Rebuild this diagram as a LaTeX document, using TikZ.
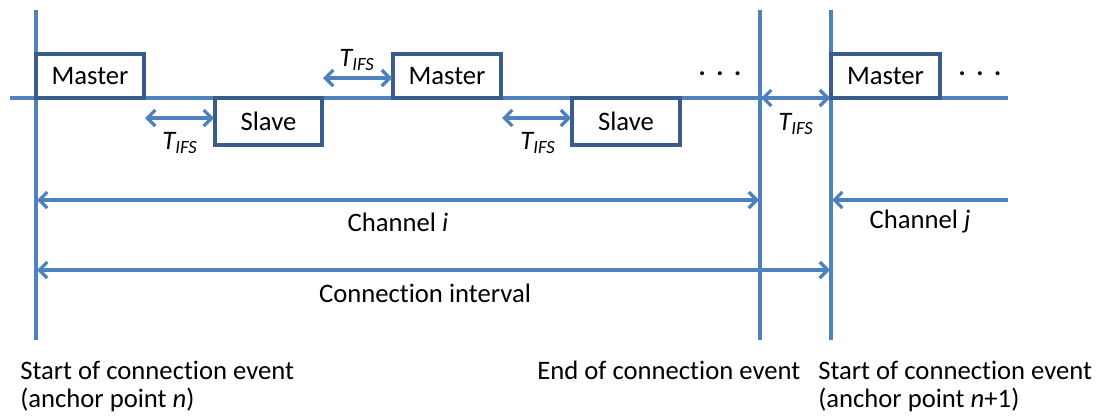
\documentclass[tikz,border=0pt]{standalone}
\usepackage{fontspec}
\setmainfont{Carlito}[Ligatures={NoCommon,NoContextual}]
\usetikzlibrary{arrows.meta}
\definecolor{lineblue}{HTML}{4F81BD}
\definecolor{boxblue}{HTML}{385D8A}
\tikzset{
  ln/.style={draw=lineblue, line width=2.4pt},
  dbl/.style={ln, {Straight Barb[length=6pt,width=12pt,line width=2.4pt]}-{Straight Barb[length=6pt,width=12pt,line width=2.4pt]}},
  rarr/.style={ln, -{Straight Barb[length=6pt,width=12pt,line width=2.4pt]}},
  box/.style={draw=boxblue, line width=2.4pt, fill=white, inner sep=0pt, font=\fontsize{20}{24}\selectfont},
  lbl/.style={font=\fontsize{20}{24}\selectfont, inner sep=0pt},
  tifs/.style={font=\fontsize{20}{24}\selectfont\itshape, inner sep=0pt},
  bot/.style={font=\fontsize{20}{24}\selectfont, inner sep=0pt, anchor=base west}
}
\newcommand{\tifs}{T\textsubscript{IFS}}
\newcommand{\mydots}{\textbf{.\hspace{0.4em}.\hspace{0.4em}.}}
\begin{document}
\begin{tikzpicture}[x=0.75pt,y=-0.75pt]
\useasboundingbox (0,0) rectangle (1105,419);
% coordinates
\coordinate (v1t) at (36,10);   \coordinate (v1b) at (36,340);
\coordinate (v2t) at (760,10);  \coordinate (v2b) at (760,340);
\coordinate (v3t) at (831,10);  \coordinate (v3b) at (831,340);
\coordinate (hl) at (10,98);    \coordinate (hr) at (1008,98);
% vertical and main lines
\draw[ln] (v1t) -- (v1b);
\draw[ln] (v2t) -- (v2b);
\draw[ln] (v3t) -- (v3b);
\draw[ln] (hl) -- (hr);
% boxes
\node[box, minimum width=81pt, minimum height=33pt] (m1) at (90,76) {Master};
\node[box, minimum width=80.25pt, minimum height=35.25pt] (s1) at (268.5,121.5) {Slave};
\node[box, minimum width=81pt, minimum height=33pt] (m2) at (447,76) {Master};
\node[box, minimum width=81pt, minimum height=35.25pt] (s2) at (626,121.5) {Slave};
\node[box, minimum width=81.75pt, minimum height=33pt] (m3) at (885.5,76) {Master};
% dots
\node[lbl] (d1) at (720,74) {\mydots};
\node[lbl] (d2) at (980,74) {\mydots};
% T_IFS arrows
\coordinate (a1l) at (145,118); \coordinate (a1r) at (214,118);
\draw[dbl] (a1l) -- (a1r);
\node[tifs] (t1) at (180,143) {\tifs};
\coordinate (a2l) at (323,78); \coordinate (a2r) at (392,78);
\draw[dbl] (a2l) -- (a2r);
\node[tifs] (t2) at (357,60) {\tifs};
\coordinate (a3l) at (502,118); \coordinate (a3r) at (571,118);
\draw[dbl] (a3l) -- (a3r);
\node[tifs] (t3) at (538,143) {\tifs};
\coordinate (a4l) at (761,98); \coordinate (a4r) at (830,98);
\draw[dbl] (a4l) -- (a4r);
\node[tifs] (t4) at (796,124) {\tifs};
% channel arrows
\coordinate (ci1) at (37,200); \coordinate (ci2) at (759,200);
\draw[dbl] (ci1) -- (ci2);
\node[lbl] (chi) at (398,222) {Channel \textit{i}};
\coordinate (cj1) at (1008,200); \coordinate (cj2) at (832,200);
\draw[rarr] (cj1) -- (cj2);
\node[lbl] (chj) at (920,222) {Channel \textit{j}};
\coordinate (cn1) at (37,270); \coordinate (cn2) at (830,270);
\draw[dbl] (cn1) -- (cn2);
\node[lbl] (cint) at (425,293) {Connection interval};
% bottom labels
\node[bot] (b1) at (20,379) {Start of connection event};
\node[bot] (b1b) at (20,407) {(anchor point \textit{n})};
\node[bot] (b2) at (537,379) {End of connection event};
\node[bot] (b3) at (818,379) {Start of connection event};
\node[bot] (b3b) at (818,407) {(anchor point \textit{n}+1)};
\end{tikzpicture}
\end{document}
